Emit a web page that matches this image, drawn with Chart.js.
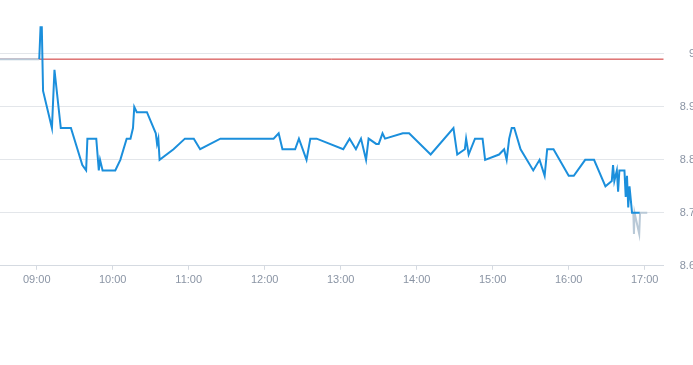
<!DOCTYPE html>
<html><head><meta charset="utf-8">
<script src="https://cdn.jsdelivr.net/npm/chart.js@4.4.1/dist/chart.umd.min.js"></script>
<style>
html,body{margin:0;padding:0;overflow:hidden;background:#fff;}
#wrap{position:relative;width:695px;height:365px;}
</style></head><body>
<div id="wrap"><canvas id="c"></canvas></div>
<script>
// Main session prices
const mainTimes = ["09:02","09:03","09:04","09:05","09:12","09:14","09:19","09:27","09:36","09:39","09:40","09:47","09:49","09:50","09:52",
  "10:02","10:06","10:11","10:14","10:16","10:17","10:19","10:27","10:34","10:35","10:36","10:37","10:48","10:57",
  "11:04","11:09","11:25","12:07","12:11","12:14","12:24","12:27","12:33","12:36","12:41",
  "13:02","13:07","13:12","13:16","13:20","13:22","13:28","13:30","13:33","13:35","13:49","13:54",
  "14:11","14:29","14:32","14:38","14:39","14:41","14:46","14:52","14:54",
  "15:05","15:09","15:11","15:13","15:15","15:17","15:22","15:32","15:37","15:41","15:43","15:48",
  "16:00","16:04","16:13","16:20","16:29","16:34","16:35","16:36","16:38","16:39","16:40","16:44","16:45","16:46","16:47","16:48","16:50","16:56"];
const mainValues = [8.99,9.05,9.05,8.93,8.86,8.97,8.86,8.86,8.79,8.78,8.84,8.84,8.78,8.80,8.78,
  8.78,8.80,8.84,8.84,8.86,8.90,8.89,8.89,8.85,8.83,8.84,8.80,8.82,8.84,
  8.84,8.82,8.84,8.84,8.85,8.82,8.82,8.84,8.80,8.84,8.84,
  8.82,8.84,8.82,8.84,8.80,8.84,8.83,8.83,8.85,8.84,8.85,8.85,
  8.81,8.86,8.81,8.82,8.84,8.81,8.84,8.84,8.80,
  8.81,8.82,8.80,8.84,8.86,8.86,8.82,8.78,8.80,8.77,8.82,8.82,
  8.77,8.77,8.80,8.80,8.75,8.76,8.79,8.76,8.78,8.74,8.78,8.78,8.73,8.77,8.71,8.75,8.70,8.70];
// Pre-open and closing auction (grey)
const preTimes = ["08:30","09:02"];
const preValues = [8.99, 8.99];
const postTimes = ["16:51:00","16:51:30","16:52:00","16:55:40","16:56:20","17:02:00"];
const postValues = [8.70, 8.66, 8.70, 8.66, 8.70, 8.70];
// Previous close reference
const refTimes = ["08:30","17:15"];
const refValues = [8.99, 8.99];
// Axes
const xMin = "08:31", xMax = "17:15";
const yMin = 8.6, yMax = 9.062, yStep = 0.1;

function toMin(s){const p=s.split(":").map(Number);return p[0]*60+p[1]+(p[2]||0)/60;}
function pts(ts,vs){return ts.map((t,i)=>({x:toMin(t),y:vs[i]}));}
function fmt(m){const h=Math.floor(m/60),mm=Math.round(m%60);return String(h).padStart(2,"0")+":"+String(mm).padStart(2,"0");}

const font = {family:"'Liberation Sans', Arial, sans-serif", size:11};
new Chart(document.getElementById("c"),{
  type:"line",
  data:{datasets:[
    {data:pts(mainTimes,mainValues),borderColor:"#1b8fdc",borderWidth:2,pointRadius:0,tension:0},
    {data:pts(postTimes,postValues),borderColor:"#b9c9d7",borderWidth:2,pointRadius:0,tension:0},
    {data:pts(preTimes,preValues),borderColor:"#b9c9d7",borderWidth:2,pointRadius:0,tension:0},
    {data:pts(refTimes,refValues),borderColor:"#cc2b2b",borderWidth:1,pointRadius:0,tension:0}
  ]},
  options:{
    responsive:true,maintainAspectRatio:false,animation:false,
    layout:{padding:{top:21,bottom:74,left:0,right:0}},
    plugins:{legend:{display:false},tooltip:{enabled:false}},
    scales:{
      x:{type:"linear",min:toMin(xMin),max:toMin(xMax),
        grid:{drawOnChartArea:false,drawTicks:true,tickLength:4,color:"#d5dae1"},
        border:{color:"#d5dae1"},
        ticks:{stepSize:60,includeBounds:false,autoSkip:false,maxRotation:0,color:"#8a94a4",font:font,padding:4,callback:v=>fmt(v)}},
      y:{position:"right",min:yMin,max:yMax,
        grid:{drawTicks:false,color:"#e3e6ea"},
        border:{display:false},
        ticks:{stepSize:yStep,includeBounds:false,crossAlign:"far",padding:8,color:"#8a94a4",font:font,callback:v=>String(Number(v.toFixed(2)))}}
    }
  }
});
</script>
</body></html>
